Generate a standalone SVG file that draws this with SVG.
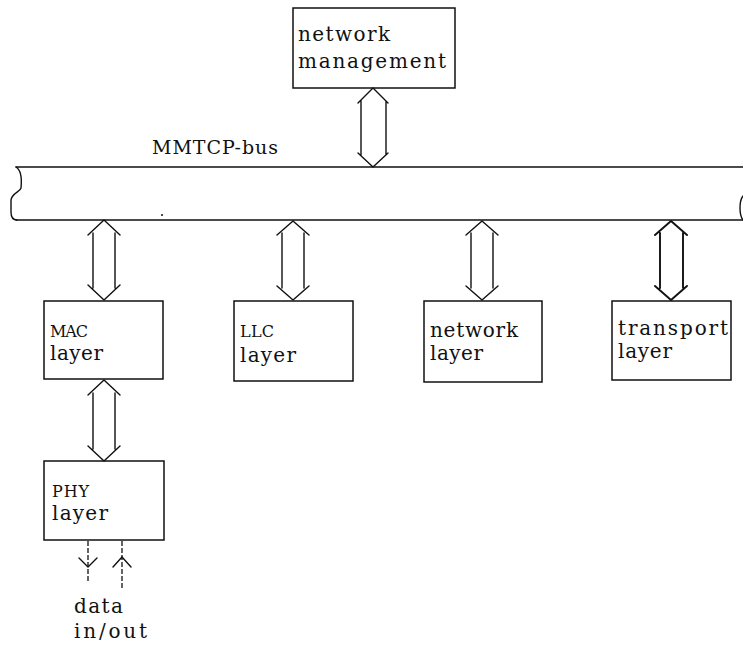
<svg xmlns="http://www.w3.org/2000/svg" width="743" height="645" viewBox="0 0 743 645">
<defs>
<style>
.box{fill:#fff;stroke:#111;stroke-width:1.5}
.ln{fill:none;stroke:#111;stroke-width:1.4;stroke-linecap:round;stroke-linejoin:round}
.bold{stroke-width:1.9}
.dash{fill:none;stroke:#111;stroke-width:1.3;stroke-dasharray:5 2}
text{font-family:"DejaVu Serif","Liberation Serif",serif;font-size:20px;fill:#111}
.sm{font-size:16px}
.bus{font-size:19px}
</style>
</defs>
<rect width="743" height="645" fill="#fff"/>
<g id="bus">
<path class="ln" d="M16,167 L743,167 M16,220 L743,220"/>
<path class="ln" d="M16,167 C21,170 22,178 21,188 C20,192 12,193 11,200 L11,212 C11,218 13,220 17,220"/>
<path class="ln" d="M743,196 C739,201 739,215 743,220"/>
<circle cx="162" cy="215" r="1" fill="#111"/>
<text class="bus" x="152" y="154" textLength="126" lengthAdjust="spacing">MMTCP-bus</text>
</g>
<g id="network-management">
<rect class="box" x="293" y="8" width="162" height="80"/>
<text x="298" y="41" textLength="92" lengthAdjust="spacing">network</text>
<text x="298" y="68" textLength="148" lengthAdjust="spacing">management</text>
</g>
<g id="mac-layer">
<rect class="box" x="44" y="301" width="119" height="78"/>
<text class="sm" x="50" y="337" textLength="38" lengthAdjust="spacing">MAC</text>
<text x="50" y="360" textLength="53" lengthAdjust="spacing">layer</text>
</g>
<g id="phy-layer">
<rect class="box" x="44" y="461" width="120" height="79"/>
<text class="sm" x="52" y="497" textLength="37" lengthAdjust="spacing">PHY</text>
<text x="52" y="520" textLength="56" lengthAdjust="spacing">layer</text>
</g>
<g id="llc-layer">
<rect class="box" x="234" y="301" width="119" height="80"/>
<text class="sm" x="240" y="337" textLength="34" lengthAdjust="spacing">LLC</text>
<text x="240" y="362" textLength="56" lengthAdjust="spacing">layer</text>
</g>
<g id="network-layer">
<rect class="box" x="424" y="301" width="118" height="81"/>
<text x="430" y="337" textLength="88" lengthAdjust="spacing">network</text>
<text x="430" y="360" textLength="53" lengthAdjust="spacing">layer</text>
</g>
<g id="transport-layer">
<rect class="box" x="612" y="301" width="119" height="79"/>
<text x="618" y="335" textLength="110" lengthAdjust="spacing">transport</text>
<text x="618" y="358" textLength="54" lengthAdjust="spacing">layer</text>
</g>
<g id="data-io">
<text x="74" y="613" textLength="49" lengthAdjust="spacing">data</text>
<text x="74" y="638" textLength="73" lengthAdjust="spacing">in/out</text>
</g>
<g id="connectors">
<path class="ln" d="M358,103 L373,88 L388,103 M361,101 L361,155 M386,101 L386,155 M358,153 L373,167 L388,153"/>
<path class="ln" d="M88,235 L104,220 L120,235 M93,233 L93,288 M115,233 L115,288 M88,285 L104,300 L120,285"/>
<path class="ln" d="M88,395 L104,380 L120,395 M93,393 L93,449 M115,393 L115,449 M88,446 L104,461 L120,446"/>
<path class="ln" d="M277,235 L293,221 L309,235 M282,233 L282,288 M304,233 L304,288 M277,286 L293,300 L309,286"/>
<path class="ln" d="M466,235 L482,221 L498,235 M471,233 L471,288 M493,233 L493,288 M466,286 L482,300 L498,286"/>
<path class="ln bold" d="M655,235 L671,221 L687,235 M660,233 L660,288 M683,233 L683,288 M655,286 L671,300 L687,286"/>
<path class="dash" d="M88,541 L88,583 M122,541 L122,588"/>
<path class="ln" d="M79,558 L88,567 L97,558 M113,567 L122,557 L131,567"/>
</g>
</svg>
